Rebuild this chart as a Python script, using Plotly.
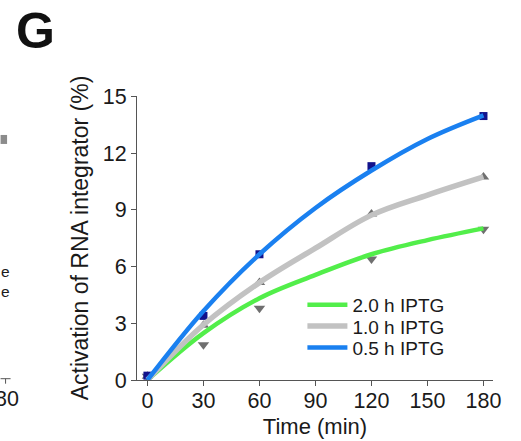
import plotly.graph_objects as go

# ---- data ----
time_pts = [0, 30, 60, 120, 180]
obs_05h = [0.23, 3.39, 6.65, 11.31, 13.96]   # squares
obs_10h = [0.20, 2.90, 5.15, 8.78, 10.74]    # up triangles
obs_20h = [0.20, 1.86, 3.80, 6.40, 7.97]     # down triangles

fit_time = [0, 30, 60, 90, 120, 150, 180]
fit_05h = [0.0, 3.65, 6.65, 9.10, 11.08, 12.75, 14.00]
fit_10h = [0.0, 2.92, 5.15, 6.97, 8.72, 9.78, 10.74]
fit_20h = [0.0, 2.48, 4.33, 5.56, 6.65, 7.40, 8.02]

legend_names = ["2.0 h IPTG", "1.0 h IPTG", "0.5 h IPTG"]
x_ticks = [0, 30, 60, 90, 120, 150, 180]
y_ticks = [0, 3, 6, 9, 12, 15]

FONT = "Arial, Liberation Sans, sans-serif"
W, H = 521, 441
ML, MR, MT, MB = 136.5, 28.3, 96, 60.7
PW, PH = W - ML - MR, H - MT - MB

def px(xp):
    return (xp - ML) / PW

def py(yp):
    return (H - MB - yp) / PH

fig = go.Figure()

# markers (drawn beneath the fitted curves)
fig.add_trace(go.Scatter(x=time_pts, y=obs_20h, mode="markers", showlegend=False,
                         marker=dict(symbol="triangle-down", size=10, color="#6f6f6f"),
                         cliponaxis=False, hoverinfo="skip"))
fig.add_trace(go.Scatter(x=time_pts, y=obs_10h, mode="markers", showlegend=False,
                         marker=dict(symbol="triangle-up", size=10, color="#6f6f6f"),
                         cliponaxis=False, hoverinfo="skip"))
fig.add_trace(go.Scatter(x=time_pts, y=obs_05h, mode="markers", showlegend=False,
                         marker=dict(symbol="square", size=8, color="#12128c"),
                         cliponaxis=False, hoverinfo="skip"))

# fitted curves, each with its own one-row legend so the rows can sit close together
fig.add_trace(go.Scatter(x=fit_time, y=fit_20h, mode="lines", name=legend_names[0],
                         legend="legend",
                         line=dict(color="#52ee4a", width=4.5, shape="spline")))
fig.add_trace(go.Scatter(x=fit_time, y=fit_10h, mode="lines", name=legend_names[1],
                         legend="legend2",
                         line=dict(color="#c2c2c2", width=5.5, shape="spline")))
fig.add_trace(go.Scatter(x=fit_time, y=fit_05h, mode="lines", name=legend_names[2],
                         legend="legend3",
                         line=dict(color="#1a80f0", width=4.5, shape="spline")))

axis_common = dict(showline=True, linecolor="#555555", linewidth=1,
                   ticks="outside", ticklen=5, tickcolor="#555555",
                   showgrid=False, zeroline=False, automargin=False,
                   tickfont=dict(family=FONT, size=21.5, color="#1a1a1a"))

fig.update_xaxes(range=[-5.6, 185.1], tickvals=x_ticks, ticklabelstandoff=-4,
                 title=dict(text="Time (min)", font=dict(family=FONT, size=22, color="#1a1a1a"),
                            standoff=6),
                 **axis_common)
fig.update_yaxes(range=[0, 15.02], tickvals=y_ticks,
                 title=dict(text="Activation of RNA integrator (%)",
                            font=dict(family=FONT, size=23, color="#1a1a1a"), standoff=7),
                 **axis_common)

annotations = [
    dict(text="<b>G</b>", x=px(34.5), y=py(31), xref="paper", yref="paper",
         xanchor="center", yanchor="middle", showarrow=False,
         font=dict(family=FONT, size=50, color="#111111")),
    # fragments of the neighbouring panel at the left edge
    dict(text="e", x=px(11), y=py(272), xref="paper", yref="paper",
         xanchor="right", yanchor="middle", showarrow=False,
         font=dict(family=FONT, size=15.5, color="#1a1a1a")),
    dict(text="e", x=px(11), y=py(292), xref="paper", yref="paper",
         xanchor="right", yanchor="middle", showarrow=False,
         font=dict(family=FONT, size=15.5, color="#1a1a1a")),
    dict(text="180", x=px(0.5), y=py(399), xref="paper", yref="paper",
         xanchor="center", yanchor="middle", showarrow=False,
         font=dict(family=FONT, size=21.5, color="#1a1a1a")),
]

shapes = [
    dict(type="rect", xref="paper", yref="paper", x0=px(0), x1=px(6.5), y0=py(135), y1=py(144),
         fillcolor="#8c8c8c", line=dict(width=0)),
    dict(type="line", xref="paper", yref="paper", x0=px(0), x1=px(10), y0=py(379), y1=py(379),
         line=dict(color="#555555", width=1)),
    dict(type="line", xref="paper", yref="paper", x0=px(5), x1=px(5), y0=py(379), y1=py(384),
         line=dict(color="#555555", width=1)),
]

def legend_row(y_center):
    return dict(x=px(302), y=py(y_center), xanchor="left", yanchor="middle",
                bgcolor="rgba(0,0,0,0)", itemwidth=40,
                font=dict(family=FONT, size=19, color="#1a1a1a"))

fig.update_layout(
    width=W, height=H,
    margin=dict(l=ML, r=MR, t=MT, b=MB, pad=0, autoexpand=False),
    paper_bgcolor="white", plot_bgcolor="white",
    font=dict(family=FONT, color="#1a1a1a"),
    legend=legend_row(305),
    legend2=legend_row(326.5),
    legend3=legend_row(348),
    annotations=annotations, shapes=shapes,
)

fig.write_html("out.html", config={"displayModeBar": False},
               post_script="document.body.style.margin='0';")
